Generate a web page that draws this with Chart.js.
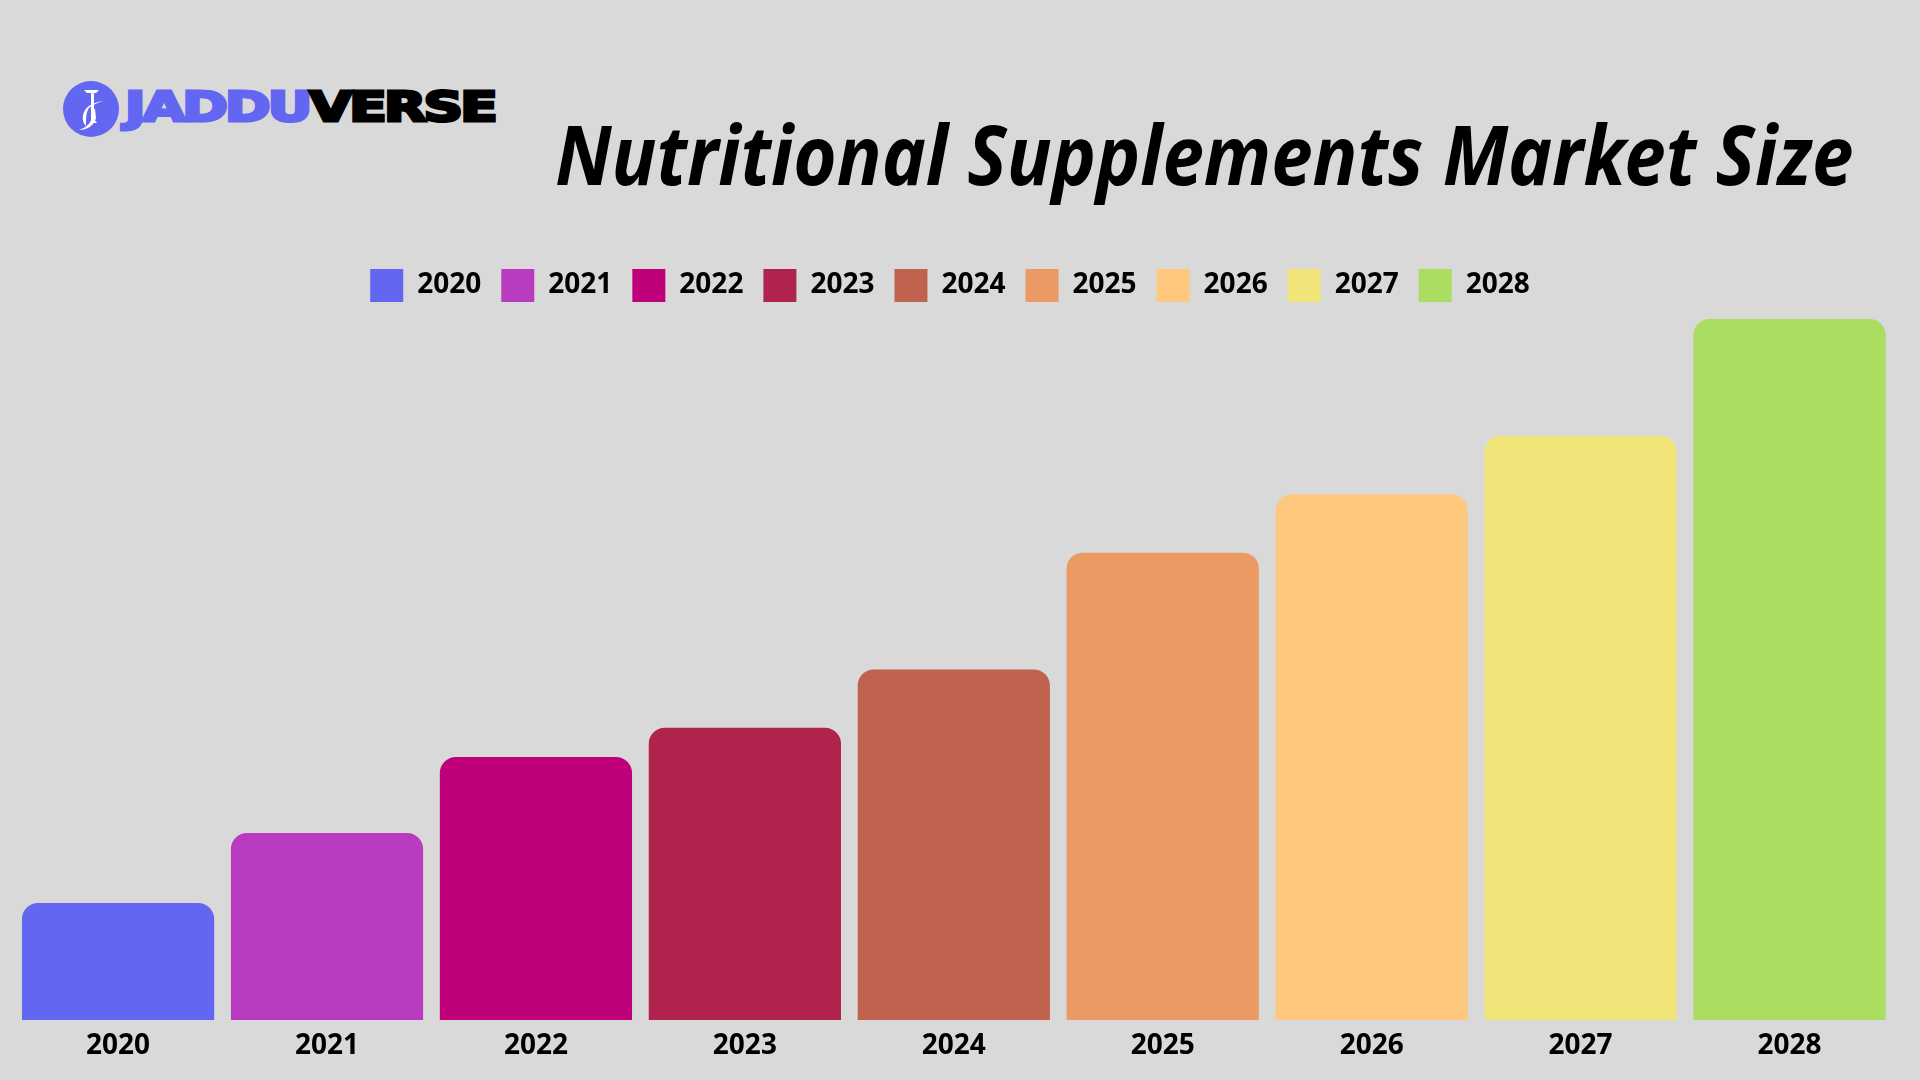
<!DOCTYPE html>
<html>
<head>
<meta charset="utf-8">
<title>Nutritional Supplements Market Size</title>
<script src="https://cdn.jsdelivr.net/npm/chart.js@4"></script>
<style>
    html, body { margin: 0; height: 100%; background: #d9d9d9; overflow: hidden; }
    #chartWrap { position: absolute; left: 0; top: 0; width: 1920px; height: 1080px; }
    h1 {
        position: absolute; right: 67px; top: 103px; margin: 0;
        font: italic 700 82px "Noto Sans", sans-serif; line-height: 100px; color: #000;
        white-space: nowrap; transform: scaleX(0.907); transform-origin: right center;
    }
    #logoMark { position: absolute; left: 63px; top: 81px; }
    #logoText {
        position: absolute; left: 125px; top: 79px; margin: 0;
        font: 700 40px "DejaVu Sans", sans-serif; line-height: 56px; white-space: nowrap;
        -webkit-text-stroke: 3px currentColor; letter-spacing: -2px;
        transform: scaleX(1.37); transform-origin: left center; color: #000;
    }
    #logoText span { color: #6366f0; }
</style>
</head>
<body>
<svg id="logoMark" width="56" height="56" viewBox="0 0 56 56">
    <circle cx="28" cy="28" r="28" fill="#6366f0"/>
    <path d="M21 9h15l-3 3h-2v26l3 4h-6v-30h-4z" fill="#fff"/>
    <path d="M40 20C28 22 22 26 20 34c-1 5 1 9 3 11 0-7 0-14 3-18 3-3 8-5 14-7z" fill="#fff"/>
    <path d="M29 28c2 8-1 17-13 21 8 0 15-4 17-12l-1-9z" fill="#fff"/>
</svg>
<p id="logoText"><span>JADDU</span>VERSE</p>
<h1>Nutritional Supplements Market Size</h1>
<div id="chartWrap"><canvas id="marketChart" width="1920" height="1080"></canvas></div>
<script>
document.addEventListener('DOMContentLoaded', () => {
    const categories = ['2020', '2021', '2022', '2023', '2024', '2025', '2026', '2027', '2028'];
    const marketSize = [100, 160, 225, 250, 300, 400, 450, 500, 600];
    const barColors = ['#6366f0', '#b83bc0', '#c00078', '#b0234c', '#c0634e', '#ec9a63', '#fec97f', '#f1e57a', '#abdd60'];
    const yTickLabels = [0, 100, 200, 300, 400];

    const labelFont = { family: '"Noto Sans", sans-serif', size: 28, weight: '700' };

    const ctx = document.getElementById('marketChart').getContext('2d');
    new Chart(ctx, {
        type: 'bar',
        data: {
            labels: categories,
            datasets: [{
                label: 'Market Size',
                data: marketSize,
                backgroundColor: barColors,
                borderRadius: { topLeft: 16, topRight: 16 },
                borderSkipped: 'bottom',
                barPercentage: 0.92,
                categoryPercentage: 1
            }]
        },
        options: {
            responsive: false,
            animation: false,
            layout: { padding: { left: 6, right: 26, top: 249, bottom: 15.5 } },
            plugins: {
                tooltip: { enabled: false },
                legend: {
                    position: 'top',
                    labels: {
                        boxWidth: 33,
                        boxHeight: 33,
                        padding: 20,
                        color: '#000',
                        font: labelFont,
                        generateLabels: () => categories.map((year, i) => ({
                            text: year,
                            fillStyle: barColors[i],
                            strokeStyle: barColors[i],
                            lineWidth: 0,
                            index: i
                        }))
                    }
                }
            },
            scales: {
                x: {
                    grid: { display: false },
                    border: { display: false },
                    ticks: { color: '#000', font: labelFont, padding: 1.5, maxRotation: 0 }
                },
                y: {
                    beginAtZero: true,
                    max: 606,
                    afterFit: scale => { scale.width = 7.6; },
                    grid: { display: false, drawTicks: false },
                    border: { display: false },
                    ticks: {
                        stepSize: 100,
                        padding: 12.6,
                        color: '#222',
                        font: labelFont,
                        callback: value => yTickLabels.includes(value) ? String(value) : ''
                    }
                }
            }
        }
    });
});
</script>
</body>
</html>
